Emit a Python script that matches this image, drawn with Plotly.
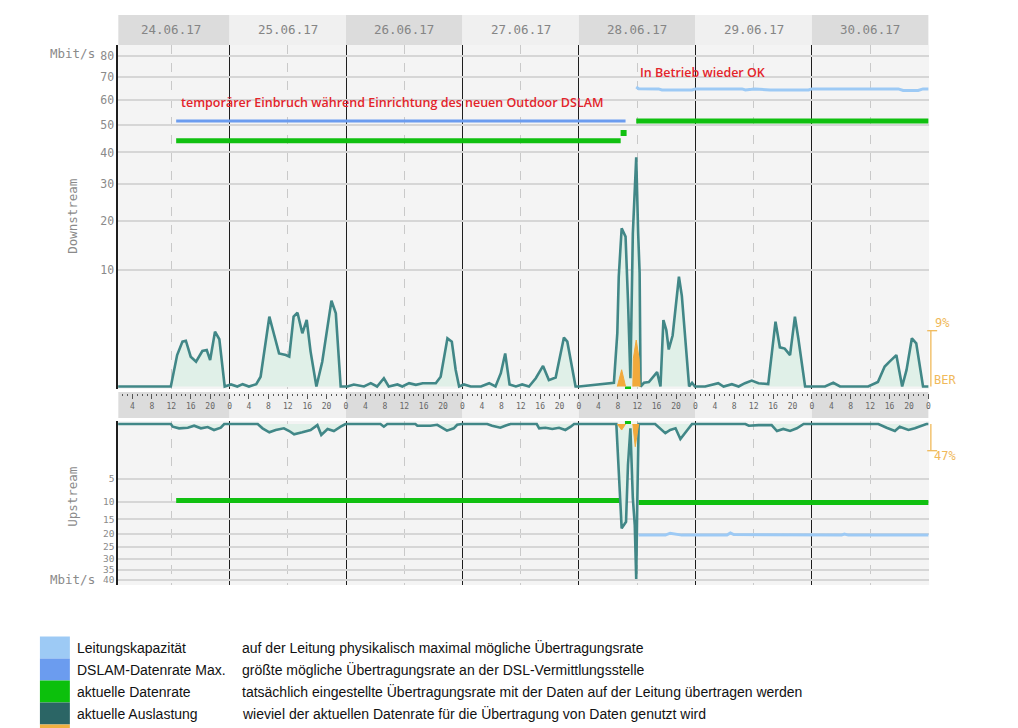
import math
import plotly.graph_objects as go

# ---------------- Daten ----------------
tage = ["24.06.17", "25.06.17", "26.06.17", "27.06.17", "28.06.17", "29.06.17", "30.06.17"]
stunden_labels = ["4", "8", "12", "16", "20", "0"]

ds_ticks = [10, 20, 30, 40, 50, 60, 70, 80]
us_ticks = [5, 10, 15, 20, 25, 30, 35, 40]

# Zeit in Stunden ab 24.06.17 0:00, Werte in Mbit/s
ds_auslastung = [
    (1.0, 0), (11.9, 0), (13.2, 0.72), (14.3, 1.47), (15.0, 1.53), (16.0, 0.65), (17.1, 0.45),
    (18.4, 0.92), (19.3, 0.97), (20.0, 0.51), (21.0, 2.2), (21.9, 1.63), (23.0, 0), (24.3, 0.003),
    (25.6, 0), (26.7, 0.004), (28.0, 0), (29.5, 0.004), (30.4, 0.07), (32.2, 3.56), (33.2, 1.94),
    (34.2, 0.80), (35.6, 0.72), (36.3, 0.65), (37.2, 3.56), (38.0, 3.98), (39.0, 2.07), (39.9, 3.23),
    (40.7, 0.89), (41.9, 0), (43.1, 0.45), (45.0, 5.38), (45.9, 3.91), (46.9, 0), (48.3, 0),
    (49.6, 0.003), (51.7, 0), (53.1, 0.008), (54.4, 0), (55.8, 0.05), (56.8, 0), (58.6, 0.003),
    (59.6, 0), (61.0, 0.008), (62.4, 0.002), (63.8, 0.008), (66.5, 0.008), (67.5, 0.07), (68.9, 1.70),
    (69.8, 1.47), (70.6, 0.20), (71.3, 0), (72.3, 0.003), (73.7, 0), (75.8, 0), (77.5, 0.008),
    (78.8, 0), (79.9, 0.13), (80.8, 0.80), (81.7, 0.003), (83.0, 0), (84.3, 0.003), (85.7, 0),
    (87.1, 0.05), (88.6, 0.31), (89.8, 0.03), (91.2, 0.06), (92.9, 1.75), (93.6, 1.47), (95.3, 0),
    (96.0, 0), (102.2, 0.005), (103.2, 0.01), (103.9, 2.07), (104.2, 8.8), (104.8, 18.3), (105.6, 16.4),
    (106.1, 5.47), (106.6, 0.05), (107.1, 17.1), (107.5, 26.3), (107.8, 38.4), (108.2, 17.1), (108.5, 9.4),
    (108.7, 0), (109.4, 0.01), (110.4, 0.015), (111.4, 0.07), (112.1, 0.15), (112.8, 0), (113.4, 3.23),
    (114.0, 2.33), (114.5, 1.0), (115.3, 1.9), (116.6, 8.8), (117.2, 6.0), (118.1, 1.2), (118.7, 0),
    (119.3, 0.01), (119.9, 0), (122.0, 0), (124.7, 0.008), (125.8, 0), (127.5, 0.004), (128.9, 0),
    (130.2, 0.008), (131.6, 0.025), (133.0, 0.008), (135.0, 0.004), (135.7, 0.80), (136.5, 3.07),
    (137.4, 1.12), (138.4, 1.05), (139.5, 0.72), (140.5, 3.56), (141.2, 1.70), (142.6, 0), (146.7, 0),
    (148.4, 0.01), (149.8, 0), (155.6, 0), (157.6, 0.015), (159.0, 0.29), (160.0, 0.45), (161.4, 0.72),
    (162.6, 0), (163.5, 0.2), (164.6, 1.70), (165.5, 1.36), (166.9, 0), (168.0, 0),
]

us_auslastung = [
    (1.0, 0), (11.9, 0), (12.3, 0.012), (13.6, 0.031), (15.4, 0.023), (16.7, 0.005), (18.1, 0.031),
    (19.5, 0.015), (20.8, 0.059), (22.2, 0.023), (22.9, 0), (29.8, 0), (30.8, 0.031), (32.2, 0.114),
    (33.5, 0.059), (35.2, 0.031), (36.3, 0.081), (37.3, 0.175), (39.0, 0.114), (40.7, 0.059),
    (42.1, 0.002), (42.9, 0.2), (44.2, 0.041), (45.5, 0.081), (46.9, 0.012), (47.9, 0), (55.1, 0),
    (55.8, 0.012), (56.5, 0), (62.3, 0), (62.7, 0.005), (65.4, 0.005), (66.8, 0.001), (67.8, 0.023),
    (68.8, 0.074), (70.2, 0.031), (70.9, 0.001), (71.9, 0), (77.1, 0), (78.1, 0.005), (79.8, 0.023),
    (80.8, 0.005), (81.9, 0), (87.3, 0), (87.8, 0.031), (89.1, 0.023), (90.5, 0.041), (91.9, 0.023),
    (93.2, 0.059), (94.3, 0.012), (95.0, 0), (103.7, 0), (104.1, 2.78), (104.8, 18.0), (105.7, 15.8),
    (106.1, 2.78), (106.6, 0.03), (107.1, 9.1), (107.5, 16.9), (107.8, 39.7), (108.0, 11.7), (108.3, 0),
    (111.7, 0), (113.1, 0.059), (113.8, 0.14), (114.8, 0.059), (115.9, 0.031), (116.9, 0.37),
    (118.3, 0.059), (119.3, 0), (130.3, 0), (131.0, 0.005), (133.0, 0.002), (135.7, 0.002),
    (136.8, 0.081), (138.1, 0.041), (139.5, 0.081), (140.9, 0.031), (142.3, 0), (157.7, 0),
    (159.4, 0.023), (161.1, 0.081), (162.1, 0.012), (163.9, 0.059), (165.2, 0.031), (166.6, 0.005),
    (167.6, 0), (168.0, 0),
]

ds_kapazitaet = [
    (107.8, 65.5), (108.3, 64.8), (112.4, 64.7), (113.1, 64.2), (119.3, 64.2), (120.0, 64.7),
    (129.6, 64.7), (130.3, 64.2), (131.6, 64.5), (132.3, 64.7), (135.4, 64.2), (143.3, 64.2),
    (144.0, 64.7), (161.8, 64.7), (162.8, 64.0), (165.9, 64.0), (166.9, 64.7), (168.0, 64.7),
]
us_kapazitaet = [
    (108.3, 20.4), (113.8, 20.4), (114.8, 19.7), (115.9, 20.0), (117.2, 20.4), (126.5, 20.4),
    (127.2, 19.6), (127.9, 20.2), (150.1, 20.4), (150.7, 20.0), (151.5, 20.4), (168.0, 20.4),
]

ds_dslam_max = [(13.0, 51.5), (105.6, 51.5)]

ds_datenrate = [(13.0, 44.1), (104.6, 44.1), (None, None), (107.8, 51.5), (168.0, 51.5)]
ds_datenrate_punkte = [(105.2, 46.9), (106.1, 0)]
us_datenrate = [(13.0, 9.7), (105.6, 9.7), (None, None), (108.3, 10.2), (168.0, 10.2)]
us_datenrate_punkte = [(106.1, 0)]

# Bitfehlerrate in %
ds_ber = [(103.9, 0), (104.8, 2.7), (105.6, 0), (None, None), (107.1, 0), (107.2, 4.5),
          (107.8, 7.5), (108.4, 4.5), (108.6, 0)]
us_ber = [(103.9, 0), (104.8, 10.6), (105.6, 0), (None, None), (107.1, 0), (107.6, 40), (108.3, 0)]
ber_max = [9, 47]

legende_farben = ["#9dcaf5", "#6b9cef", "#0cc00c", "#2b6565", "#f0b040"]
legende_namen = ["Leitungskapazität", "DSLAM-Datenrate Max.", "aktuelle Datenrate", "aktuelle Auslastung"]
legende_text = [
    "auf der Leitung physikalisch maximal mögliche Übertragungsrate",
    "größte mögliche Übertragungsrate an der DSL-Vermittlungsstelle",
    "tatsächlich eingestellte Übertragungsrate mit der Daten auf der Leitung übertragen werden",
    "wieviel der aktuellen Datenrate für die Übertragung von Daten genutzt wird",
]

# ---------------- Layout-Konstanten ----------------
W, H = 1018, 728
PX_H = 4.8625          # Pixel pro Stunde
X0_PX = 113.3          # Pixel von 24.06. 0:00
X_RANGE = [1.05, 168.15]

DS_BASE, DS_TOP, DS_BOT, DS_SCALE = 386.5, 45, 389, 37.0
US_BASE, US_TOP, US_BOT, US_SCALE = 424, 421, 585, 24.6
BER_DS_PX = 55.8       # Pixel fuer 9 %
BER_US_PX = 26.7       # Pixel fuer 47 %

MONO = "DejaVu Sans Mono"
GRAU = "#8a8a8a"
TEAL = "#418787"
FILL = "#e0f0e8"
GRUEN = "#10c010"
ORANGE = "#f2a93b"
ORANGE_TXT = "#f0b95a"


def px(x):
    return x / W


def py(y):
    return 1 - y / H


def sq(werte):
    return [None if w is None else math.sqrt(w) for w in werte]


def spalten(paare):
    return [p[0] for p in paare], [p[1] for p in paare]


def text(x, y, t, xanchor="center", size=12, color=GRAU, family=MONO, **kw):
    return dict(x=px(x), y=py(y), xref="paper", yref="paper", text=t, showarrow=False,
                xanchor=xanchor, yanchor="middle",
                font=dict(family=family, size=size, color=color), **kw)


fig = go.Figure()


def linie(paare, farbe, breite, xa, ya, fill=None, fillcolor=None, transform=True):
    t, v = spalten(paare)
    fig.add_trace(go.Scatter(
        x=t, y=sq(v) if transform else v, mode="lines", xaxis=xa, yaxis=ya,
        line=dict(color=farbe, width=breite), fill=fill, fillcolor=fillcolor,
        connectgaps=False, hoverinfo="skip", showlegend=False))


def punkte(paare, xa, ya):
    t, v = spalten(paare)
    fig.add_trace(go.Scatter(
        x=t, y=sq(v), mode="markers", xaxis=xa, yaxis=ya,
        marker=dict(color=GRUEN, size=6, symbol="square"),
        hoverinfo="skip", showlegend=False))


# Downstream
linie(ds_kapazitaet, legende_farben[0], 3, "x", "y")
linie(ds_dslam_max, legende_farben[1], 3, "x", "y")
linie(ds_datenrate, GRUEN, 5, "x", "y")
punkte(ds_datenrate_punkte, "x", "y")
linie(ds_auslastung, TEAL, 2.6, "x", "y", fill="tozeroy", fillcolor=FILL)
linie(ds_ber, ORANGE, 1, "x", "y3", fill="tozeroy", fillcolor=ORANGE, transform=False)

# Upstream
linie(us_kapazitaet, legende_farben[0], 3, "x2", "y2")
linie(us_datenrate, GRUEN, 5, "x2", "y2")
punkte(us_datenrate_punkte, "x2", "y2")
linie(us_auslastung, TEAL, 2.6, "x2", "y2", fill="tozeroy", fillcolor=FILL)
linie(us_ber, ORANGE, 1, "x2", "y4", fill="tozeroy", fillcolor=ORANGE, transform=False)

# unsichtbare Spur fuer die Stundenleiste
fig.add_trace(go.Scatter(x=[X_RANGE[0]], y=[0], xaxis="x3", yaxis="y", mode="markers",
                         marker=dict(opacity=0), hoverinfo="skip", showlegend=False))

x_domain = [(X0_PX + X_RANGE[0] * PX_H) / W, (X0_PX + X_RANGE[1] * PX_H) / W]

grid_x = dict(
    range=X_RANGE, domain=x_domain, showticklabels=False, ticks="", zeroline=False,
    tickmode="linear", tick0=0, dtick=24, showgrid=True, gridcolor="#1e1e1e", gridwidth=1.3,
    minor=dict(tickmode="linear", tick0=0, dtick=12, showgrid=True, gridcolor="#c9c9c9",
               griddash="dash", gridwidth=1),
)

stunden_vals = []
stunden_text = []
for i in range(len(tage)):
    for k, lab in enumerate(stunden_labels):
        stunden_vals.append(i * 24 + (k + 1) * 4)
        stunden_text.append(lab)

fig.update_layout(
    width=W, height=H, margin=dict(l=0, r=0, t=0, b=0),
    paper_bgcolor="white", plot_bgcolor="#f4f4f4",
    xaxis=dict(anchor="y", **grid_x),
    xaxis2=dict(anchor="y2", **grid_x),
    xaxis3=dict(
        range=X_RANGE, domain=x_domain, overlaying="x", anchor="free", position=py(393), side="bottom",
        showgrid=False, zeroline=False, showline=False, tickmode="array",
        tickvals=stunden_vals, ticktext=stunden_text, ticks="outside", ticklen=5, tickwidth=1,
        tickcolor="#555555", tickfont=dict(family=MONO, size=8, color="#666666"),
        minor=dict(tickmode="linear", tick0=0, dtick=1, ticks="outside", ticklen=2, tickcolor="#555555"),
    ),
    yaxis=dict(
        domain=[py(DS_BOT), py(DS_TOP)], anchor="x",
        range=[-(DS_BOT - DS_BASE) / DS_SCALE, (DS_BASE - DS_TOP) / DS_SCALE],
        tickmode="array", tickvals=sq(ds_ticks), ticktext=[str(t) for t in ds_ticks],
        showgrid=True, gridcolor="#d6d6d6", gridwidth=1.5, zeroline=False,
        showline=True, linecolor="#1e1e1e", linewidth=1.5, ticks="",
        tickfont=dict(family=MONO, size=11.5, color=GRAU),
    ),
    yaxis2=dict(
        domain=[py(US_BOT), py(US_TOP)], anchor="x2",
        range=[(US_BOT - US_BASE) / US_SCALE, -(US_BASE - US_TOP) / US_SCALE],
        tickmode="array", tickvals=sq(us_ticks), ticktext=[str(t) for t in us_ticks],
        showgrid=True, gridcolor="#d6d6d6", gridwidth=1.5, zeroline=False,
        showline=True, linecolor="#1e1e1e", linewidth=1.5, ticks="",
        tickfont=dict(family=MONO, size=9.5, color=GRAU),
    ),
    yaxis3=dict(
        overlaying="y", anchor="x", visible=False,
        range=[-(DS_BOT - DS_BASE) * ber_max[0] / BER_DS_PX, (DS_BASE - DS_TOP) * ber_max[0] / BER_DS_PX],
    ),
    yaxis4=dict(
        overlaying="y2", anchor="x2", visible=False,
        range=[(US_BOT - US_BASE) * ber_max[1] / BER_US_PX, -(US_BASE - US_TOP) * ber_max[1] / BER_US_PX],
    ),
)

shapes = []
annotations = []

# Kopfzeile mit Datum und Stundenleiste
for i, tag in enumerate(tage):
    farbe = "#dcdcdc" if i % 2 == 0 else "#f0f0f0"
    x0 = max(i * 24, X_RANGE[0])
    x1 = min((i + 1) * 24, X_RANGE[1])
    shapes.append(dict(type="rect", xref="x", yref="paper", x0=x0, x1=x1, y0=py(45), y1=py(15),
                       fillcolor=farbe, line=dict(width=0), layer="below"))
    shapes.append(dict(type="rect", xref="x", yref="paper", x0=x0, x1=x1, y0=py(418), y1=py(392),
                       fillcolor=farbe, line=dict(width=0), layer="below"))
    annotations.append(dict(x=i * 24 + 12, y=py(30), xref="x", yref="paper", text=tag, showarrow=False,
                            xanchor="center", yanchor="middle",
                            font=dict(family=MONO, size=12.5, color="#858585")))

# Achsenbeschriftungen
annotations += [
    text(72, 216, "Downstream", textangle=-90, size=12.5),
    text(72, 497, "Upstream", textangle=-90, size=12.5),
    text(97, 54, "Mbit/s", xanchor="right", size=12.5),
    text(97, 579, "Mbit/s", xanchor="right", size=12.5),
]

# BER-Klammern rechts
shapes += [
    dict(type="line", xref="paper", yref="y3", x0=px(932.7), x1=px(932.7), y0=0, y1=ber_max[0],
         line=dict(color=ORANGE_TXT, width=1.3)),
    dict(type="line", xref="paper", yref="y3", x0=px(929), x1=px(939), y0=ber_max[0], y1=ber_max[0],
         line=dict(color=ORANGE_TXT, width=1.3)),
    dict(type="line", xref="paper", yref="y4", x0=px(932.7), x1=px(932.7), y0=0, y1=ber_max[1],
         line=dict(color=ORANGE_TXT, width=1.3)),
    dict(type="line", xref="paper", yref="y4", x0=px(929), x1=px(939), y0=ber_max[1], y1=ber_max[1],
         line=dict(color=ORANGE_TXT, width=1.3)),
]
annotations += [
    text(935, 323, f"{ber_max[0]}%", xanchor="left", color=ORANGE_TXT),
    text(934, 380, "BER", xanchor="left", color=ORANGE_TXT),
    text(934, 456, f"{ber_max[1]}%", xanchor="left", color=ORANGE_TXT),
]

# rote Kommentare
rot = dict(family="Open Sans", size=12.5, color="#e3242b", weight=600)
annotations += [
    dict(x=px(179), y=py(103), xref="paper", yref="paper", xanchor="left", yanchor="middle",
         text="temporärer Einbruch während Einrichtung des neuen Outdoor DSLAM", showarrow=False, font=rot),
    dict(x=px(639), y=py(73), xref="paper", yref="paper", xanchor="left", yanchor="middle",
         text="In Betrieb wieder OK", showarrow=False, font=rot),
]

# Legende unten
for i, farbe in enumerate(legende_farben):
    y0 = 636.5 + 22 * i
    shapes.append(dict(type="rect", xref="paper", yref="paper", x0=px(40), x1=px(70),
                       y0=py(y0 + 22), y1=py(y0), fillcolor=farbe, line=dict(width=0)))
    if i < len(legende_namen):
        annotations.append(text(75, y0 + 11, legende_namen[i], xanchor="left", size=14,
                                color="#111111", family="Liberation Sans"))
        annotations.append(text(240, y0 + 11, legende_text[i], xanchor="left", size=14,
                                color="#111111", family="Liberation Sans"))

fig.update_layout(shapes=shapes, annotations=annotations)

fig.write_html("out.html", config={"displayModeBar": False},
               post_script="document.body.style.margin='0px';")
